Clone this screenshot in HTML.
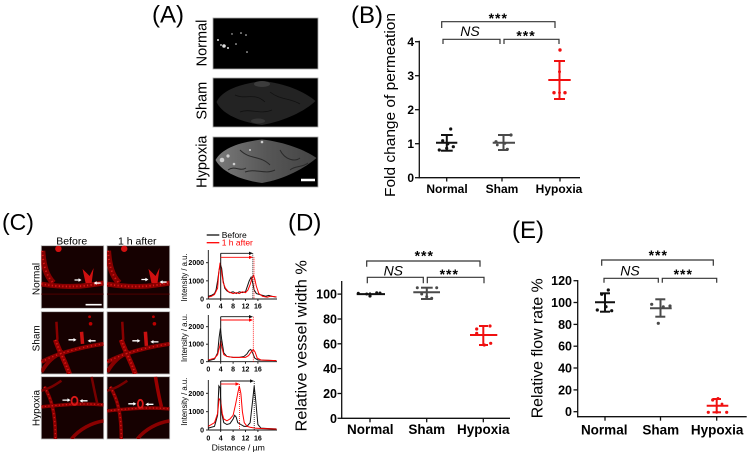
<!DOCTYPE html>
<html><head><meta charset="utf-8">
<style>
html,body{margin:0;padding:0;background:#fff;}
svg{display:block;}
text{font-family:"Liberation Sans",sans-serif;}
</style></head>
<body>
<svg width="750" height="452" viewBox="0 0 750 452" xmlns="http://www.w3.org/2000/svg">
<defs>
<linearGradient id="hg" x1="0" x2="1" y1="0" y2="0">
<stop offset="0" stop-color="#7a7a7a"/><stop offset="0.5" stop-color="#575757"/><stop offset="1" stop-color="#444"/>
</linearGradient>
</defs>
<rect width="750" height="452" fill="#fff"/>

<!-- Panel labels -->
<text x="152" y="22.5" font-size="24">(A)</text>
<text x="351" y="23" font-size="24">(B)</text>
<text x="2" y="230" font-size="23">(C)</text>
<text x="288" y="230.5" font-size="24">(D)</text>
<text x="512" y="238" font-size="24">(E)</text>

<!-- ============ Panel A ============ -->
<rect x="213" y="18" width="105" height="51" fill="#000" stroke="#aaa" stroke-width="0.8"/>
<g fill="#ddd">
<circle cx="218" cy="40" r="1"/><circle cx="224" cy="46" r="1.8"/><circle cx="228" cy="48" r="1"/>
<circle cx="221" cy="45" r="0.9"/><circle cx="236" cy="44" r="0.8"/><circle cx="241" cy="33" r="0.8"/>
<circle cx="246" cy="35" r="0.8"/><circle cx="247" cy="52" r="0.8"/><circle cx="232" cy="34" r="0.7"/>
</g>
<rect x="213" y="78" width="105" height="49" fill="#000" stroke="#aaa" stroke-width="0.8"/>
<path d="M216.5,102 C222,90 240,84 262,81 C285,83 305,92 315.5,101 C305,111 285,121 262,125 C240,122 222,114 216.5,102Z" fill="#232323"/>
<ellipse cx="262" cy="84" rx="8" ry="3" fill="#3c3c3c"/>
<ellipse cx="258" cy="121" rx="7" ry="2.5" fill="#363636"/>
<g stroke="#111" stroke-width="0.8" fill="none">
<path d="M235,95 C245,100 255,92 265,102"/><path d="M270,92 C280,100 290,98 300,104"/><path d="M240,112 C250,108 260,115 272,110"/>
</g>
<rect x="213" y="137" width="105" height="50" fill="#000" stroke="#aaa" stroke-width="0.8"/>
<path d="M215.5,160 C222,148 240,142 262,139.5 C285,142 305,150 316.5,158 C305,168 285,179 262,183 C240,180 222,172 215.5,160Z" fill="url(#hg)"/>
<g fill="#cfcfcf">
<circle cx="222" cy="160" r="2.3"/><circle cx="228" cy="156" r="1.6"/><circle cx="234" cy="164" r="1.3"/>
<circle cx="262" cy="142" r="1.3"/><circle cx="250" cy="150" r="1"/>
</g>
<g stroke="#2a2a2a" stroke-width="1" fill="none">
<path d="M240,150 C250,160 260,155 270,165"/><path d="M280,150 C285,160 295,162 300,158"/><path d="M245,172 C255,168 265,175 275,170"/>
<path d="M228,170 C235,165 240,172 246,168"/><path d="M290,170 C296,165 302,168 308,163"/>
</g>
<line x1="301" y1="180" x2="315" y2="180" stroke="#fff" stroke-width="2.5"/>
<text transform="translate(206.5,43) rotate(-90)" text-anchor="middle" font-size="14.5">Normal</text>
<text transform="translate(206.5,100.7) rotate(-90)" text-anchor="middle" font-size="14.5">Sham</text>
<text transform="translate(206.5,161.7) rotate(-90)" text-anchor="middle" font-size="14.5">Hypoxia</text>

<!-- ============ Panel B ============ -->
<g stroke="#111" stroke-width="1.3">
<line x1="419.3" y1="40.7" x2="419.3" y2="178.3"/>
<line x1="418.7" y1="177.7" x2="580" y2="177.7"/>
<line x1="415" y1="41.7" x2="419.3" y2="41.7"/>
<line x1="415" y1="75.7" x2="419.3" y2="75.7"/>
<line x1="415" y1="109.7" x2="419.3" y2="109.7"/>
<line x1="415" y1="143.7" x2="419.3" y2="143.7"/>
<line x1="415" y1="177.7" x2="419.3" y2="177.7"/>
<line x1="446.7" y1="177.7" x2="446.7" y2="181.5"/>
<line x1="502" y1="177.7" x2="502" y2="181.5"/>
<line x1="560" y1="177.7" x2="560" y2="181.5"/>
</g>
<g font-size="12" font-weight="bold" text-anchor="end">
<text x="414" y="46">4</text><text x="414" y="80">3</text><text x="414" y="114">2</text>
<text x="414" y="148">1</text><text x="414" y="182">0</text>
</g>
<g font-size="12" font-weight="bold" text-anchor="middle">
<text x="447" y="193">Normal</text><text x="502" y="193">Sham</text><text x="559" y="193">Hypoxia</text>
</g>
<text transform="translate(395,105) rotate(-90)" text-anchor="middle" font-size="15" textLength="184" lengthAdjust="spacingAndGlyphs">Fold change of permeation</text>
<g stroke="#333" stroke-width="1.2" fill="none">
<path d="M441.7,28 V21.7 H555 V28"/>
<path d="M443,44 V39.3 H500 V44"/>
<path d="M504,44 V39.3 H559 V44"/>
</g>
<text x="498.3" y="23" font-size="14" font-weight="bold" text-anchor="middle" letter-spacing="1">***</text>
<text x="470" y="36" font-size="14" font-style="italic" text-anchor="middle">NS</text>
<text x="526" y="40.5" font-size="14" font-weight="bold" text-anchor="middle" letter-spacing="1">***</text>
<g stroke="#111" stroke-width="2">
<line x1="436" y1="142.7" x2="457.3" y2="142.7"/>
<line x1="446.8" y1="135" x2="446.8" y2="150.7"/>
<line x1="441" y1="135" x2="452.7" y2="135"/>
<line x1="441" y1="150.7" x2="452.7" y2="150.7"/>
</g>
<g fill="#111">
<circle cx="450.7" cy="129" r="1.6"/><circle cx="442.7" cy="140.7" r="1.6"/><circle cx="439.3" cy="150" r="1.6"/>
<circle cx="446.7" cy="148.3" r="1.6"/><circle cx="453.3" cy="146.7" r="1.6"/><circle cx="448" cy="144" r="1.4"/>
</g>
<g stroke="#4a4a4a" stroke-width="2">
<line x1="492.7" y1="142.7" x2="515" y2="142.7"/>
<line x1="503.5" y1="135" x2="503.5" y2="150"/>
<line x1="498" y1="135" x2="510" y2="135"/>
<line x1="498" y1="150" x2="508" y2="150"/>
</g>
<g fill="#4a4a4a">
<circle cx="511" cy="135" r="1.6"/><circle cx="496" cy="141.7" r="1.6"/><circle cx="507.3" cy="149.3" r="1.6"/>
<circle cx="505" cy="143.3" r="1.4"/><circle cx="497.3" cy="145" r="1.4"/>
</g>
<g stroke="#f01010" stroke-width="2">
<line x1="548.3" y1="80" x2="570.7" y2="80"/>
<line x1="559.5" y1="61" x2="559.5" y2="99"/>
<line x1="554" y1="61" x2="565" y2="61"/>
<line x1="554" y1="99" x2="565" y2="99"/>
</g>
<g fill="#f01010">
<circle cx="560" cy="50" r="1.7"/><circle cx="559.5" cy="71.7" r="1.5"/>
<circle cx="554" cy="92.7" r="1.7"/><circle cx="565" cy="92.7" r="1.7"/><circle cx="559.5" cy="92.7" r="1.4"/>
</g>

<!-- ============ Panel C images ============ -->
<text x="71.7" y="244.5" font-size="10.5" text-anchor="middle">Before</text>
<text x="137.3" y="244.5" font-size="10.5" text-anchor="middle">1 h after</text>
<text transform="translate(39.5,279) rotate(-90)" text-anchor="middle" font-size="10">Normal</text>
<text transform="translate(39.5,338.3) rotate(-90)" text-anchor="middle" font-size="10">Sham</text>
<text transform="translate(39.5,408) rotate(-90)" text-anchor="middle" font-size="10">Hypoxia</text>

<g stroke="#bbb" stroke-width="0.8" fill="#160101">
<rect x="41.3" y="245.7" width="62.4" height="62.6"/>
<rect x="107" y="245.7" width="62.7" height="62.6"/>
<rect x="41.3" y="311.7" width="62.4" height="62.3"/>
<rect x="107" y="311.7" width="62.7" height="62.3"/>
<rect x="41.3" y="376.7" width="62.4" height="62.3"/>
<rect x="107" y="376.7" width="62.7" height="62.3"/>
</g>

<!-- Row1 before -->
<svg x="41.3" y="245.7" width="62.4" height="62.6" viewBox="0 0 62 62">
<g fill="none">
<path d="M1,5 C2,20 5,30 12,37" stroke="#900" stroke-width="6" opacity=".85"/>
<path d="M0,38 C12,40 25,41 40,40 C50,39 56,38 62,37" stroke="#8a0000" stroke-width="5"/>
<path d="M0,38 C12,40 25,41 40,40 C50,39 56,38 62,37" stroke="#d81818" stroke-width="1.8" stroke-dasharray="1.2 2.3"/>
<path d="M1,5 C2,20 5,30 12,37" stroke="#d81818" stroke-width="1.8" stroke-dasharray="1.2 2.8"/>
<line x1="0" y1="48" x2="62" y2="48" stroke="#400" stroke-width="1.2"/>
</g>
<circle cx="17" cy="3" r="3.2" fill="#d01010"/>
<path d="M41,23 L44,37 L50,37 L52,22 L48,30 Z" fill="#d01010"/>
<path d="M33,34 H38" stroke="#fff" stroke-width="1.3"/><path d="M40,34 L37,32.2 L37,35.8Z" fill="#fff"/>
<path d="M59,37 H54" stroke="#fff" stroke-width="1.3"/><path d="M52,37 L55,35.2 L55,38.8Z" fill="#fff"/>
<line x1="44" y1="58.5" x2="60" y2="58.5" stroke="#fff" stroke-width="1.6"/>
</svg>
<!-- Row1 after -->
<svg x="107" y="245.7" width="62.7" height="62.6" viewBox="0 0 62 62">
<g fill="none">
<path d="M1,5 C2,20 5,30 12,37" stroke="#900" stroke-width="6" opacity=".85"/>
<path d="M0,38 C12,40 25,41 40,40 C50,39 56,38 62,37" stroke="#8a0000" stroke-width="5"/>
<path d="M0,38 C12,40 25,41 40,40 C50,39 56,38 62,37" stroke="#d81818" stroke-width="1.8" stroke-dasharray="1.2 2.3"/>
<path d="M1,5 C2,20 5,30 12,37" stroke="#d81818" stroke-width="1.8" stroke-dasharray="1.2 2.8"/>
<line x1="0" y1="48" x2="62" y2="48" stroke="#400" stroke-width="1.2"/>
</g>
<circle cx="17" cy="3" r="3.2" fill="#d01010"/>
<path d="M41,23 L44,37 L50,37 L52,22 L48,30 Z" fill="#d01010"/>
<path d="M34,33.5 H39" stroke="#fff" stroke-width="1.3"/><path d="M41,33.5 L38,31.7 L38,35.3Z" fill="#fff"/>
<path d="M59,36 H54" stroke="#fff" stroke-width="1.3"/><path d="M52,36 L55,34.2 L55,37.8Z" fill="#fff"/>
</svg>
<!-- Row2 before -->
<svg x="41.3" y="311.7" width="62.4" height="62.3" viewBox="0 0 62 62">
<g fill="none">
<path d="M0,50 C15,42 35,36 62,32" stroke="#8a0000" stroke-width="4"/>
<path d="M14,28 C18,40 24,50 28,62" stroke="#950000" stroke-width="5"/>
<path d="M0,60 C6,50 12,44 22,40" stroke="#800" stroke-width="4"/>
<path d="M14,28 C18,40 24,50 28,62" stroke="#d81818" stroke-width="1.8" stroke-dasharray="1.2 2.3"/>
<path d="M0,50 C15,42 35,36 62,32" stroke="#d81818" stroke-width="1.4" stroke-dasharray="1.2 2.8"/>
<path d="M15,10 L16,28" stroke="#800" stroke-width="2.5"/>
<path d="M40,20 L41,32" stroke="#c81010" stroke-width="3.5"/>
</g>
<circle cx="48" cy="5" r="1.4" fill="#b00"/><circle cx="49" cy="12" r="1.8" fill="#b00"/>
<path d="M27,28 H33" stroke="#fff" stroke-width="1.3"/><path d="M35,28 L32,26.2 L32,29.8Z" fill="#fff"/>
<path d="M54,29 H48" stroke="#fff" stroke-width="1.3"/><path d="M46,29 L49,27.2 L49,30.8Z" fill="#fff"/>
</svg>
<!-- Row2 after -->
<svg x="107" y="311.7" width="62.7" height="62.3" viewBox="0 0 62 62">
<g fill="none">
<path d="M0,50 C15,42 35,36 62,32" stroke="#8a0000" stroke-width="4"/>
<path d="M14,28 C18,40 24,50 28,62" stroke="#950000" stroke-width="5"/>
<path d="M0,60 C6,50 12,44 22,40" stroke="#800" stroke-width="4"/>
<path d="M14,28 C18,40 24,50 28,62" stroke="#d81818" stroke-width="1.8" stroke-dasharray="1.2 2.3"/>
<path d="M0,50 C15,42 35,36 62,32" stroke="#d81818" stroke-width="1.4" stroke-dasharray="1.2 2.8"/>
<path d="M15,10 L16,28" stroke="#800" stroke-width="2.5"/>
<path d="M38,20 L39,34" stroke="#c81010" stroke-width="3.5"/>
</g>
<circle cx="46" cy="5" r="1.4" fill="#b00"/><circle cx="47" cy="12" r="1.8" fill="#b00"/>
<path d="M25,29 H31" stroke="#fff" stroke-width="1.3"/><path d="M33,29 L30,27.2 L30,30.8Z" fill="#fff"/>
<path d="M51,30 H45" stroke="#fff" stroke-width="1.3"/><path d="M43,30 L46,28.2 L46,31.8Z" fill="#fff"/>
</svg>
<!-- Row3 before -->
<svg x="41.3" y="376.7" width="62.4" height="62.3" viewBox="0 0 62 62">
<g fill="none">
<path d="M0,30 C20,28 40,26 62,28" stroke="#8a0000" stroke-width="3.5"/>
<path d="M3,10 C10,22 14,35 14,62" stroke="#8a0000" stroke-width="3.5"/>
<path d="M30,62 C38,52 50,46 62,44" stroke="#8a0000" stroke-width="3.5"/>
<path d="M0,14 C8,12 14,8 20,4" stroke="#700" stroke-width="2.5"/>
<path d="M50,0 C52,10 54,20 56,28" stroke="#700" stroke-width="2.5"/>
<path d="M0,30 C20,28 40,26 62,28" stroke="#d81818" stroke-width="1.3" stroke-dasharray="1.2 2.3"/>
<path d="M3,10 C10,22 14,35 14,62" stroke="#d81818" stroke-width="1.3" stroke-dasharray="1.2 2.8"/>
<ellipse cx="33" cy="24" rx="3" ry="4" stroke="#d81818" stroke-width="1.8"/>
</g>
<path d="M21,23.3 H27" stroke="#fff" stroke-width="1.3"/><path d="M29,23.3 L26,21.5 L26,25.1Z" fill="#fff"/>
<path d="M46,24 H40" stroke="#fff" stroke-width="1.3"/><path d="M38,24 L41,22.2 L41,25.8Z" fill="#fff"/>
</svg>
<!-- Row3 after -->
<svg x="107" y="376.7" width="62.7" height="62.3" viewBox="0 0 62 62">
<g fill="none">
<path d="M0,34 C20,32 40,30 62,32" stroke="#8a0000" stroke-width="3.5"/>
<path d="M3,10 C10,22 14,35 14,62" stroke="#8a0000" stroke-width="3.5"/>
<path d="M30,62 C38,52 50,46 62,44" stroke="#8a0000" stroke-width="3.5"/>
<path d="M0,14 C8,12 14,8 20,4" stroke="#700" stroke-width="2.5"/>
<path d="M48,0 C50,12 52,22 54,30" stroke="#900" stroke-width="3.5"/>
<path d="M0,34 C20,32 40,30 62,32" stroke="#d81818" stroke-width="1.3" stroke-dasharray="1.2 2.3"/>
<path d="M3,10 C10,22 14,35 14,62" stroke="#d81818" stroke-width="1.3" stroke-dasharray="1.2 2.8"/>
<ellipse cx="33" cy="27" rx="2.5" ry="4" stroke="#d81818" stroke-width="1.8"/>
</g>
<path d="M21,27 H27" stroke="#fff" stroke-width="1.3"/><path d="M29,27 L26,25.2 L26,28.8Z" fill="#fff"/>
<path d="M46,27.5 H40" stroke="#fff" stroke-width="1.3"/><path d="M38,27.5 L41,25.7 L41,29.3Z" fill="#fff"/>
</svg>

<!-- ============ Panel C plots ============ -->
<line x1="206.7" y1="235" x2="219.3" y2="235" stroke="#111" stroke-width="1.3"/>
<text x="221.7" y="238" font-size="8.5">Before</text>
<line x1="206.7" y1="242.7" x2="219.3" y2="242.7" stroke="#f00" stroke-width="1.3"/>
<text x="221.7" y="245.7" font-size="8.5" fill="#f00">1 h after</text>

<!-- plot 1 -->
<g stroke="#111" stroke-width="0.9">
<line x1="208.3" y1="250" x2="208.3" y2="299"/>
<line x1="208.3" y1="299" x2="277" y2="299"/>
<line x1="206" y1="262.7" x2="208.3" y2="262.7"/><line x1="206" y1="280.85" x2="208.3" y2="280.85"/><line x1="206" y1="299" x2="208.3" y2="299"/>
<line x1="220.7" y1="299" x2="220.7" y2="301"/><line x1="233.1" y1="299" x2="233.1" y2="301"/><line x1="245.5" y1="299" x2="245.5" y2="301"/><line x1="257.9" y1="299" x2="257.9" y2="301"/>
</g>
<g transform="translate(208.3,299) scale(3.1,-0.01815)" fill="none">
<polyline stroke="#111" stroke-width="1" vector-effect="non-scaling-stroke" points="0,150 1,200 2,300 2.5,500 3,1000 3.5,1600 3.9,1900 4.3,1700 4.8,1000 5.3,600 6,450 7,350 8,400 9,300 10,400 11,350 12,400 12.6,700 13.2,1000 13.8,1200 14.3,900 14.8,500 15.5,300 16.5,250 17.5,200 18.5,150 19.5,200 20.5,150 22,100"/>
<polyline stroke="#f00" stroke-width="1" vector-effect="non-scaling-stroke" points="0,100 1,150 2,250 3,600 3.4,1500 3.8,2000 4.2,1600 4.8,900 5.5,600 6.5,400 8,300 9,350 10,300 11,400 12,350 12.8,500 13.5,800 14.2,1200 14.6,1300 15,1100 15.5,700 16.3,300 17.5,150 19,100 20,150 22,120"/>
</g>
<line x1="220.7" y1="253.3" x2="220.7" y2="299" stroke="#111" stroke-width="1"/>
<line x1="252.8" y1="253.3" x2="252.8" y2="299" stroke="#111" stroke-width="0.8" stroke-dasharray="1 1"/>
<line x1="254" y1="257.3" x2="254" y2="299" stroke="#f00" stroke-width="0.8" stroke-dasharray="1 1"/>
<line x1="220.7" y1="253.3" x2="249.5" y2="253.3" stroke="#111" stroke-width="0.9"/><path d="M253,253.3 L249,251.6 L249,255Z" fill="#111"/>
<line x1="220.7" y1="257.3" x2="249.5" y2="257.3" stroke="#f00" stroke-width="0.9"/><path d="M253,257.3 L249,255.6 L249,259Z" fill="#f00"/>

<!-- plot 2 -->
<g stroke="#111" stroke-width="0.9">
<line x1="208.3" y1="315" x2="208.3" y2="361.7"/>
<line x1="208.3" y1="361.7" x2="277" y2="361.7"/>
<line x1="206" y1="326.7" x2="208.3" y2="326.7"/><line x1="206" y1="344.2" x2="208.3" y2="344.2"/><line x1="206" y1="361.7" x2="208.3" y2="361.7"/>
<line x1="220.7" y1="361.7" x2="220.7" y2="363.7"/><line x1="233.1" y1="361.7" x2="233.1" y2="363.7"/><line x1="245.5" y1="361.7" x2="245.5" y2="363.7"/><line x1="257.9" y1="361.7" x2="257.9" y2="363.7"/>
</g>
<g transform="translate(208.3,361.7) scale(3.1,-0.0175)" fill="none">
<polyline stroke="#111" stroke-width="1" vector-effect="non-scaling-stroke" points="0,50 2,150 3,500 3.5,1400 3.9,1900 4.3,1300 5,500 6,300 8,250 10,250 11.5,300 12.5,450 13.2,650 13.7,700 14.3,500 15,200 16,100 18,80 22,60"/>
<polyline stroke="#f00" stroke-width="1" vector-effect="non-scaling-stroke" points="0,100 2,200 3,400 3.7,900 4,1200 4.4,800 5,400 6,300 8,250 10,250 12,250 13,350 13.8,550 14.5,700 15.1,550 15.8,200 17,100 19,80 22,60"/>
</g>
<line x1="220.7" y1="316.7" x2="220.7" y2="361.7" stroke="#111" stroke-width="1"/>
<line x1="253.3" y1="316.7" x2="253.3" y2="361.7" stroke="#f00" stroke-width="0.8" stroke-dasharray="1 1"/>
<line x1="220.7" y1="316.7" x2="249.5" y2="316.7" stroke="#111" stroke-width="0.9"/><path d="M253,316.7 L249,315 L249,318.4Z" fill="#111"/>
<line x1="220.7" y1="320" x2="249.5" y2="320" stroke="#f00" stroke-width="0.9"/><path d="M253,320 L249,318.3 L249,321.7Z" fill="#f00"/>

<!-- plot 3 -->
<g stroke="#111" stroke-width="0.9">
<line x1="208.3" y1="380" x2="208.3" y2="430"/>
<line x1="208.3" y1="430" x2="277" y2="430"/>
<line x1="206" y1="393.3" x2="208.3" y2="393.3"/><line x1="206" y1="411.7" x2="208.3" y2="411.7"/><line x1="206" y1="430" x2="208.3" y2="430"/>
<line x1="220.7" y1="430" x2="220.7" y2="432"/><line x1="233.1" y1="430" x2="233.1" y2="432"/><line x1="245.5" y1="430" x2="245.5" y2="432"/><line x1="257.9" y1="430" x2="257.9" y2="432"/>
</g>
<g transform="translate(208.3,430) scale(3.1,-0.01835)" fill="none">
<polyline stroke="#111" stroke-width="1" vector-effect="non-scaling-stroke" points="0,100 2,200 3,800 3.4,2400 3.8,2300 4.2,1000 5,400 6,300 7,350 8,600 8.5,800 9,700 9.5,400 10.5,300 11.5,200 12.5,200 13.5,400 14.3,1600 14.8,2400 15.3,1600 16,300 17,100 19,80 22,60"/>
<polyline stroke="#f00" stroke-width="1" vector-effect="non-scaling-stroke" points="0,200 2,400 3,900 3.5,1700 4,1600 4.5,900 5,600 6,500 7,600 8,800 8.8,1400 9.5,2000 10,2400 10.5,2000 11,1000 11.6,400 12.5,200 13.5,150 15,100 17,80 22,50"/>
</g>
<line x1="220.7" y1="381" x2="220.7" y2="430" stroke="#111" stroke-width="1"/>
<line x1="239.5" y1="384" x2="239.5" y2="430" stroke="#f00" stroke-width="0.8" stroke-dasharray="1 1"/>
<line x1="254.2" y1="381" x2="254.2" y2="430" stroke="#111" stroke-width="0.8" stroke-dasharray="1 1"/>
<line x1="220.7" y1="381" x2="250.5" y2="381" stroke="#111" stroke-width="0.9"/><path d="M254,381 L250,379.3 L250,382.7Z" fill="#111"/>
<line x1="220.7" y1="384" x2="236" y2="384" stroke="#f00" stroke-width="0.9"/><path d="M239.5,384 L235.5,382.3 L235.5,385.7Z" fill="#f00"/>

<g font-size="7" font-weight="bold" text-anchor="end">
<text x="204" y="265.2">2000</text><text x="204" y="283.3">1000</text><text x="204" y="301.5">0</text>
<text x="204" y="329.2">2000</text><text x="204" y="346.7">1000</text><text x="204" y="364.2">0</text>
<text x="204" y="395.8">2000</text><text x="204" y="414.2">1000</text><text x="204" y="432.5">0</text>
</g>
<g font-size="7" font-weight="bold" text-anchor="middle">
<text x="208.3" y="308.5">0</text><text x="220.7" y="308.5">4</text><text x="233.1" y="308.5">8</text><text x="245.5" y="308.5">12</text><text x="257.9" y="308.5">16</text>
<text x="208.3" y="371.5">0</text><text x="220.7" y="371.5">4</text><text x="233.1" y="371.5">8</text><text x="245.5" y="371.5">12</text><text x="257.9" y="371.5">16</text>
<text x="208.3" y="440.5">0</text><text x="220.7" y="440.5">4</text><text x="233.1" y="440.5">8</text><text x="245.5" y="440.5">12</text><text x="257.9" y="440.5">16</text>
</g>
<text transform="translate(187,277.5) rotate(-90)" text-anchor="middle" font-size="8" textLength="48" lengthAdjust="spacingAndGlyphs">Intensity / a.u.</text>
<text transform="translate(187,338) rotate(-90)" text-anchor="middle" font-size="8" textLength="48" lengthAdjust="spacingAndGlyphs">Intensity / a.u.</text>
<text transform="translate(187,401.7) rotate(-90)" text-anchor="middle" font-size="8" textLength="48" lengthAdjust="spacingAndGlyphs">Intensity / a.u.</text>
<text x="238.3" y="450.5" font-size="8.7" text-anchor="middle">Distance / µm</text>

<!-- ============ Panel D ============ -->
<g stroke="#111" stroke-width="1.3">
<line x1="341.7" y1="281" x2="341.7" y2="418.9"/>
<line x1="341.1" y1="418.3" x2="510" y2="418.3"/>
<line x1="337.5" y1="294.1" x2="341.7" y2="294.1"/>
<line x1="337.5" y1="319" x2="341.7" y2="319"/>
<line x1="337.5" y1="343.8" x2="341.7" y2="343.8"/>
<line x1="337.5" y1="368.6" x2="341.7" y2="368.6"/>
<line x1="337.5" y1="393.5" x2="341.7" y2="393.5"/>
<line x1="337.5" y1="418.3" x2="341.7" y2="418.3"/>
<line x1="370" y1="418.3" x2="370" y2="422.3"/>
<line x1="426.7" y1="418.3" x2="426.7" y2="422.3"/>
<line x1="483.3" y1="418.3" x2="483.3" y2="422.3"/>
</g>
<g font-size="12.5" font-weight="bold" text-anchor="end">
<text x="337" y="298.6">100</text><text x="337" y="323.5">80</text><text x="337" y="348.3">60</text>
<text x="337" y="373.1">40</text><text x="337" y="398">20</text><text x="337" y="422.8">0</text>
</g>
<g font-size="13.5" font-weight="bold" text-anchor="middle">
<text x="370.3" y="434">Normal</text><text x="426.7" y="434">Sham</text><text x="483.3" y="434">Hypoxia</text>
</g>
<text transform="translate(306.5,345.8) rotate(-90)" text-anchor="middle" font-size="16" textLength="171.5" lengthAdjust="spacingAndGlyphs">Relative vessel width %</text>
<g stroke="#333" stroke-width="1.2" fill="none">
<path d="M366.7,266.7 V261 H480 V266.7"/>
<path d="M367.3,283.3 V277.3 H423.3 V283.3"/>
<path d="M427.3,283.3 V277.3 H484 V283.3"/>
</g>
<text x="424.3" y="260.5" font-size="14" font-weight="bold" text-anchor="middle" letter-spacing="1">***</text>
<text x="393.3" y="275.5" font-size="14" font-style="italic" text-anchor="middle">NS</text>
<text x="449.3" y="279" font-size="14" font-weight="bold" text-anchor="middle" letter-spacing="1">***</text>
<g stroke="#111" stroke-width="2">
<line x1="356.7" y1="294.1" x2="385" y2="294.1"/>
<line x1="370" y1="292.5" x2="370" y2="295.7"/>
</g>
<g fill="#111">
<circle cx="358.3" cy="293.3" r="1.5"/><circle cx="366.7" cy="294" r="1.5"/><circle cx="370" cy="296" r="1.6"/>
<circle cx="376.7" cy="292.7" r="1.5"/><circle cx="380" cy="293" r="1.5"/>
</g>
<g stroke="#4a4a4a" stroke-width="2">
<line x1="413.3" y1="292.3" x2="440" y2="292.3"/>
<line x1="426.8" y1="287.7" x2="426.8" y2="299"/>
<line x1="421" y1="287.7" x2="432.7" y2="287.7"/>
<line x1="421" y1="299" x2="432.7" y2="299"/>
</g>
<g fill="#4a4a4a">
<circle cx="417.3" cy="287.7" r="1.5"/><circle cx="436.7" cy="287.7" r="1.5"/><circle cx="421.7" cy="294" r="1.5"/>
<circle cx="426.7" cy="296.7" r="1.5"/><circle cx="431.7" cy="298.3" r="1.5"/>
</g>
<g stroke="#f01010" stroke-width="2">
<line x1="470" y1="335" x2="497.3" y2="335"/>
<line x1="483.3" y1="326" x2="483.3" y2="345"/>
<line x1="479" y1="326" x2="488" y2="326"/>
<line x1="479" y1="345" x2="488" y2="345"/>
</g>
<g fill="#f01010">
<circle cx="476.7" cy="329" r="1.6"/><circle cx="476.7" cy="333.3" r="1.6"/><circle cx="490" cy="326" r="1.6"/>
<circle cx="484.3" cy="345" r="1.6"/><circle cx="490.7" cy="343.3" r="1.6"/>
</g>

<!-- ============ Panel E ============ -->
<g stroke="#111" stroke-width="1.3">
<line x1="577.7" y1="280" x2="577.7" y2="417.3"/>
<line x1="577.1" y1="416.7" x2="746.7" y2="416.7"/>
<line x1="573.5" y1="280.7" x2="577.7" y2="280.7"/>
<line x1="573.5" y1="302.5" x2="577.7" y2="302.5"/>
<line x1="573.5" y1="324.4" x2="577.7" y2="324.4"/>
<line x1="573.5" y1="346.2" x2="577.7" y2="346.2"/>
<line x1="573.5" y1="368" x2="577.7" y2="368"/>
<line x1="573.5" y1="389.9" x2="577.7" y2="389.9"/>
<line x1="573.5" y1="411.7" x2="577.7" y2="411.7"/>
<line x1="605" y1="416.7" x2="605" y2="420.7"/>
<line x1="660.5" y1="416.7" x2="660.5" y2="420.7"/>
<line x1="716.7" y1="416.7" x2="716.7" y2="420.7"/>
</g>
<g font-size="12.5" font-weight="bold" text-anchor="end">
<text x="572" y="285.2">120</text><text x="572" y="307">100</text><text x="572" y="328.9">80</text>
<text x="572" y="350.7">60</text><text x="572" y="372.5">40</text><text x="572" y="394.4">20</text><text x="572" y="416.2">0</text>
</g>
<g font-size="13.5" font-weight="bold" text-anchor="middle">
<text x="604.2" y="434.5">Normal</text><text x="660.8" y="434.5">Sham</text><text x="717.2" y="434.5">Hypoxia</text>
</g>
<text transform="translate(542.5,348.3) rotate(-90)" text-anchor="middle" font-size="16" textLength="140" lengthAdjust="spacingAndGlyphs">Relative flow rate %</text>
<g stroke="#333" stroke-width="1.2" fill="none">
<path d="M601.7,265.7 V260 H713.3 V265.7"/>
<path d="M604,282.7 V278.3 H658.3 V282.7"/>
<path d="M662.3,282.7 V278.3 H716.7 V282.7"/>
</g>
<text x="658.3" y="260" font-size="14" font-weight="bold" text-anchor="middle" letter-spacing="1">***</text>
<text x="630" y="275.5" font-size="14" font-style="italic" text-anchor="middle">NS</text>
<text x="683.3" y="279" font-size="14" font-weight="bold" text-anchor="middle" letter-spacing="1">***</text>
<g stroke="#111" stroke-width="2">
<line x1="595" y1="302.3" x2="615" y2="302.3"/>
<line x1="605" y1="293.3" x2="605" y2="311.7"/>
<line x1="600" y1="293.3" x2="610" y2="293.3"/>
<line x1="600" y1="311.7" x2="610" y2="311.7"/>
</g>
<g fill="#111">
<circle cx="608.3" cy="290" r="1.6"/><circle cx="601.7" cy="294.3" r="1.6"/><circle cx="606" cy="306.7" r="1.6"/>
<circle cx="597.3" cy="310" r="1.6"/><circle cx="611.7" cy="310.7" r="1.6"/>
</g>
<g stroke="#4a4a4a" stroke-width="2">
<line x1="650" y1="308.3" x2="671.7" y2="308.3"/>
<line x1="660.5" y1="299.3" x2="660.5" y2="316.7"/>
<line x1="655.3" y1="299.3" x2="665.3" y2="299.3"/>
<line x1="655.3" y1="316.7" x2="665.3" y2="316.7"/>
</g>
<g fill="#4a4a4a">
<circle cx="651.7" cy="304.3" r="1.6"/><circle cx="670" cy="306" r="1.6"/><circle cx="663.3" cy="306.7" r="1.5"/>
<circle cx="658.3" cy="323.3" r="1.6"/>
</g>
<g stroke="#f01010" stroke-width="2">
<line x1="706.7" y1="405.7" x2="728.3" y2="405.7"/>
<line x1="716.7" y1="399" x2="716.7" y2="412.3"/>
<line x1="712.5" y1="399" x2="721" y2="399"/>
<line x1="712.5" y1="412.3" x2="721" y2="412.3"/>
</g>
<g fill="#f01010">
<circle cx="712.7" cy="400" r="1.6"/><circle cx="718" cy="398.5" r="1.5"/><circle cx="708.3" cy="412.3" r="1.6"/>
<circle cx="716.7" cy="412.3" r="1.5"/><circle cx="726.7" cy="412.3" r="1.6"/><circle cx="722" cy="404" r="1.4"/>
</g>
</svg>
</body></html>
